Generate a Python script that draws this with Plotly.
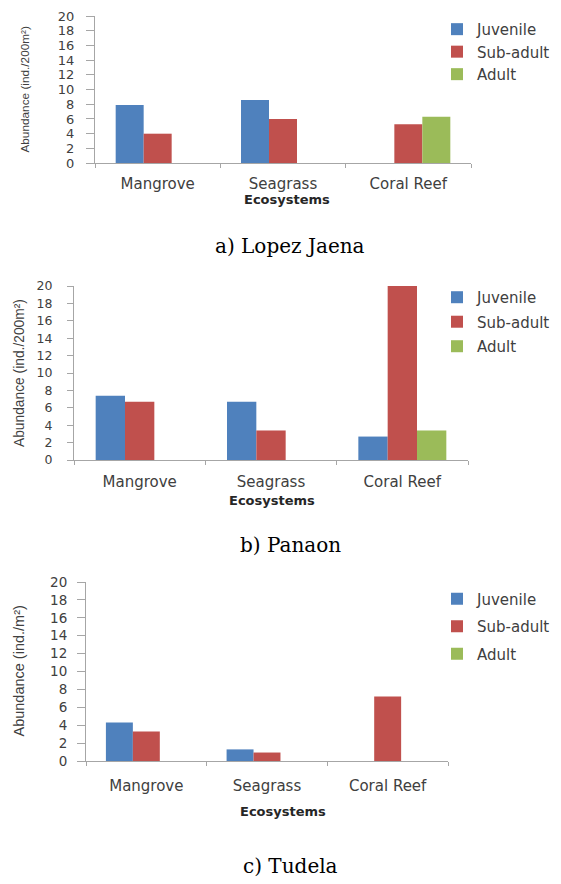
import plotly.graph_objects as go

W, H = 561, 884

categories = ["Mangrove", "Seagrass", "Coral Reef"]
stages = ["Juvenile", "Sub-adult", "Adult"]
y_ticks = [0, 2, 4, 6, 8, 10, 12, 14, 16, 18, 20]

lopez_juvenile = [7.9, 8.6, 0]
lopez_subadult = [4.0, 6.0, 5.3]
lopez_adult = [0, 0, 6.3]

panaon_juvenile = [7.4, 6.7, 2.7]
panaon_subadult = [6.7, 3.4, 20.0]
panaon_adult = [0, 0, 3.4]

tudela_juvenile = [4.3, 1.3, 0]
tudela_subadult = [3.3, 0.95, 7.2]
tudela_adult = [0, 0, 0]

captions = ["a) Lopez Jaena", "b) Panaon", "c) Tudela"]
y_titles = ["Abundance (ind./200m²)", "Abundance (ind./200m²)", "Abundance (ind./m²)"]
x_title = "Ecosystems"

colors = ["#4F81BD", "#C0504D", "#9BBB59"]


def T(y):
    # vertical pixel position on the page for a target position in the picture
    return (y - 7.9) / 0.982


panels = [
    dict(series=[lopez_juvenile, lopez_subadult, lopez_adult],
         x0=95, x1=471, ytop=T(16), ybot=T(163), ticklen=8, standoff=9, tickfs=13,
         xstandoff=7, ytitle_x=25, ytitle_fs=11.8, eco=(287, T(199)), cap_y=T(246),
         leg_y=5, leg_gap=0),
    dict(series=[panaon_juvenile, panaon_subadult, panaon_adult],
         x0=74, x1=468, ytop=T(286), ybot=T(460), ticklen=6, standoff=12, tickfs=12.5,
         xstandoff=8, ytitle_x=19, ytitle_fs=13.8, eco=(272, T(500)), cap_y=T(545),
         leg_y=278, leg_gap=2),
    dict(series=[tudela_juvenile, tudela_subadult, tudela_adult],
         x0=86, x1=448, ytop=T(582), ybot=T(761), ticklen=8, standoff=7, tickfs=13.5,
         xstandoff=11, ytitle_x=19, ytitle_fs=14.5, eco=(283, T(811)), cap_y=874,
         leg_y=585, leg_gap=5),
]

fig = go.Figure()
annotations = []
layout_axes = {}

for i, p in enumerate(panels):
    n = "" if i == 0 else str(i + 1)
    xa, ya = "x" + n, "y" + n
    leg = "legend" + n
    for s, (stage, vals) in enumerate(zip(stages, p["series"])):
        fig.add_trace(go.Bar(
            x=categories, y=vals, name=stage, xaxis=xa, yaxis=ya,
            marker=dict(color=colors[s], line=dict(width=0)),
            legend=leg, legendgroup=f"{leg}_{s}",
        ))
    layout_axes["xaxis" + n] = dict(
        domain=[p["x0"] / W, p["x1"] / W], anchor=ya,
        showline=True, linecolor="#a6a6a6", linewidth=1,
        ticks="outside", tickson="boundaries", ticklen=4, tickcolor="#a6a6a6",
        ticklabelstandoff=p["xstandoff"],
        tickfont=dict(family="DejaVu Sans", size=15, color="#404040"),
        showgrid=False, zeroline=False, fixedrange=True,
    )
    layout_axes["yaxis" + n] = dict(
        domain=[1 - p["ybot"] / H, 1 - p["ytop"] / H], anchor=xa,
        range=[0, 20], tickvals=y_ticks,
        showline=True, linecolor="#a6a6a6", linewidth=1,
        ticks="outside", ticklen=p["ticklen"], tickcolor="#a6a6a6",
        ticklabelstandoff=p["standoff"],
        tickfont=dict(family="DejaVu Sans", size=p["tickfs"], color="#404040"),
        showgrid=False, zeroline=False, fixedrange=True,
    )
    layout_axes[leg] = dict(
        x=437 / W, xanchor="left", y=1 - p["leg_y"] / H, yanchor="top",
        font=dict(family="DejaVu Sans", size=15, color="#404040"),
        bgcolor="rgba(0,0,0,0)", borderwidth=0,
        traceorder="grouped", tracegroupgap=p["leg_gap"],
        itemclick=False, itemdoubleclick=False,
    )
    annotations.append(dict(
        text=y_titles[i], textangle=-90, xref="paper", yref="paper",
        x=p["ytitle_x"] / W, y=1 - (p["ytop"] + p["ybot"]) / 2 / H,
        xanchor="center", yanchor="middle", showarrow=False,
        font=dict(family="Liberation Sans", size=p["ytitle_fs"], color="#404040"),
    ))
    annotations.append(dict(
        text=f"<b>{x_title}</b>", xref="paper", yref="paper",
        x=p["eco"][0] / W, y=1 - p["eco"][1] / H,
        xanchor="center", yanchor="middle", showarrow=False,
        font=dict(family="DejaVu Sans", size=13, color="#262626"),
    ))
    annotations.append(dict(
        text=captions[i], xref="paper", yref="paper",
        x=290 / W, y=1 - p["cap_y"] / H,
        xanchor="center", yanchor="middle", showarrow=False,
        font=dict(family="DejaVu Serif", size=20, color="#000000"),
    ))

fig.update_layout(
    width=W, height=H,
    margin=dict(l=0, r=0, t=0, b=0),
    paper_bgcolor="white", plot_bgcolor="white",
    barmode="group", bargap=0.33, bargroupgap=0,
    showlegend=True,
    annotations=annotations,
    **layout_axes,
)

fig.write_html(
    "out.html",
    config={"displayModeBar": False},
    post_script=(
        "document.documentElement.style.margin='0';"
        "document.body.style.margin='0';document.body.style.padding='0';"
        "document.body.style.overflow='hidden';"
    ),
)
